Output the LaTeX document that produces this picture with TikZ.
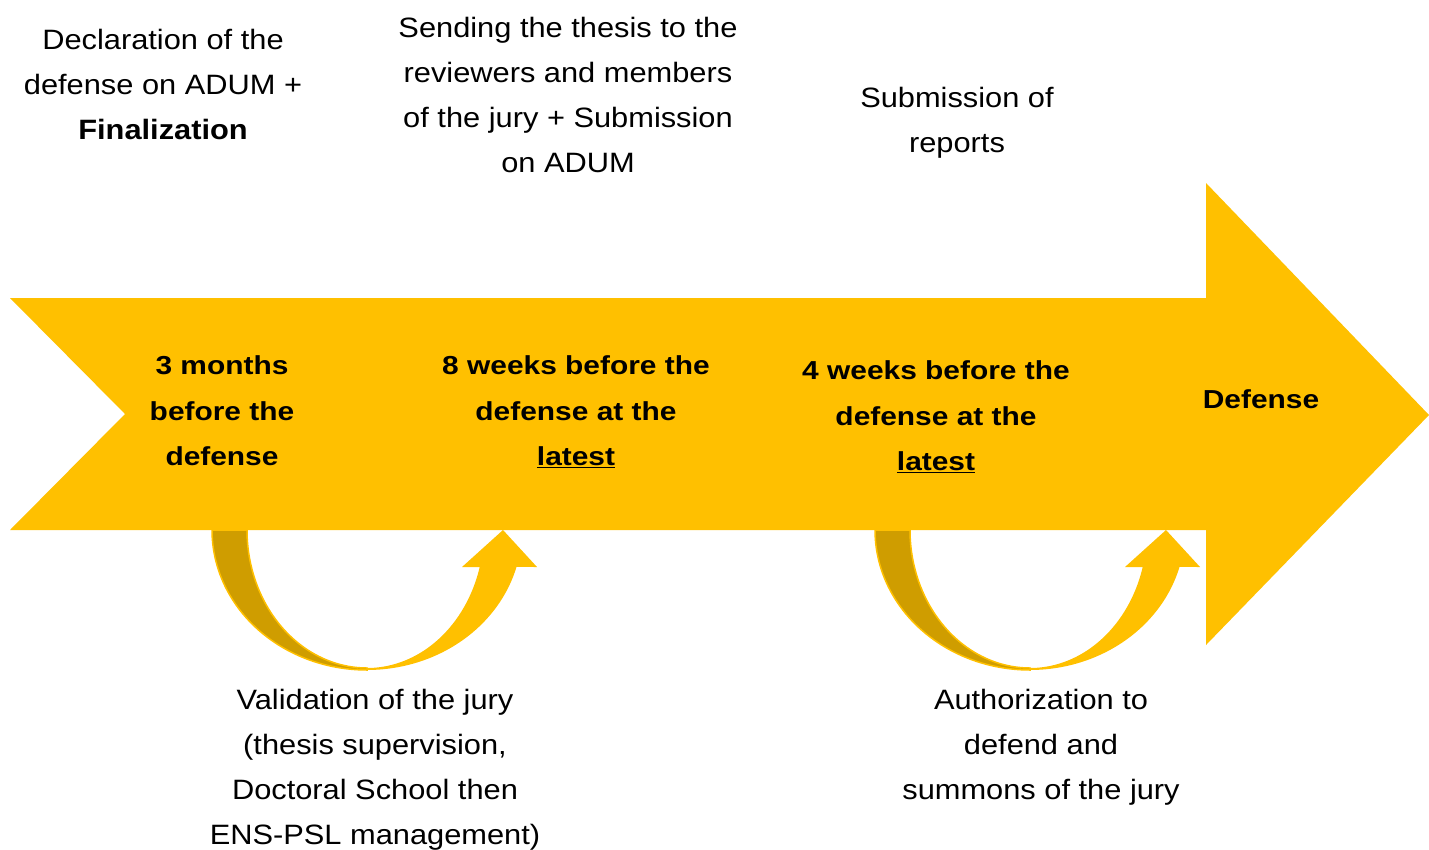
\documentclass[tikz,border=0pt]{standalone}
\usepackage{fontspec}
\setmainfont{Liberation Sans}[FakeStretch=1.1]
\newfontfamily\arrowfont{Liberation Sans}[FakeStretch=1.15]
\definecolor{gold}{HTML}{FFC000}
\definecolor{darkgold}{HTML}{CF9D00}
\tikzset{
  toptext/.style={align=center, inner sep=0pt, font=\fontsize{28}{45}\selectfont},
  arrowtext/.style={align=center, inner sep=0pt, font=\arrowfont\bfseries\fontsize{26}{45.5}\selectfont},
  uturn/.pic={
    \fill[darkgold, draw=gold, line width=1.5pt]
      plot[domain=180:90, samples=50] ({155*cos(\x)},{140*sin(\x)})
      -- plot[domain=90:180, samples=50] ({120*cos(\x)},{138*sin(\x)}) -- cycle;
    \fill[gold]
      plot[domain=90:15.3, samples=50] ({155*cos(\x)},{140*sin(\x)})
      -- (170,37) -- (136,0) -- (95,37)
      -- plot[domain=15.55:90, samples=50] ({117*cos(\x)},{138*sin(\x)}) -- cycle;
  }
}
\begin{document}
\begin{tikzpicture}[x=1pt, y=-1pt]
\useasboundingbox (0,0) rectangle (1429,849);
% main arrow
\fill[gold] (10,298) -- (1206,298) -- (1206,183) -- (1429,415) -- (1206,645)
  -- (1206,530) -- (10,530) -- (125,414) -- cycle;
% curved arrows
\pic at (367,530) {uturn};
\pic at (1030,530) {uturn};
% top texts
\node[toptext] (t1) at (163,84) {Declaration of the\\defense on ADUM +\\\textbf{Finalization}};
\node[toptext] (t2) at (568,94.5) {Sending the thesis to the\\reviewers and members\\of the jury + Submission\\on ADUM};
\node[toptext] (t3) at (957,122.5) {Submission of\\reports};
% arrow texts
\node[arrowtext] (a1) at (222,411) {3 months\\before the\\defense};
\node[arrowtext] (a2) at (576,412) {8 weeks before the\\defense at the\\\underline{latest}};
\node[arrowtext] (a3) at (936,417) {4 weeks before the\\defense at the\\\underline{latest}};
\node[arrowtext] (a4) at (1261,399) {Defense};
% bottom texts
\node[toptext] (b1) at (375,770) {Validation of the jury\\(thesis supervision,\\Doctoral School then\\ENS-PSL management)};
\node[toptext] (b2) at (1041,747) {Authorization to\\defend and\\summons of the jury};
\end{tikzpicture}
\end{document}
